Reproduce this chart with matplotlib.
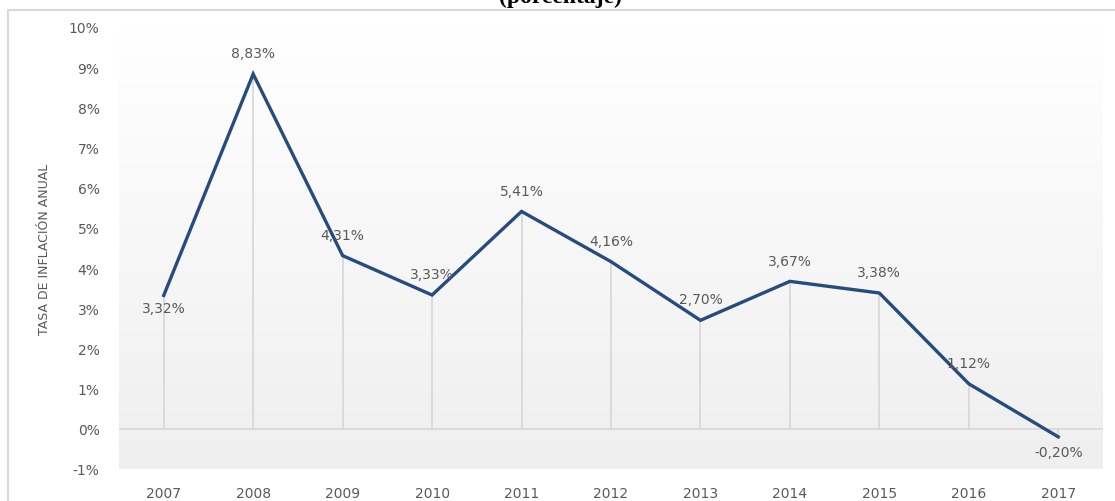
import numpy as np
import matplotlib.pyplot as plt
from matplotlib.patches import Rectangle

# datos: tasa de inflacion anual (%)
years = ['2007', '2008', '2009', '2010', '2011', '2012', '2013', '2014', '2015', '2016', '2017']
inflation = [3.32, 8.83, 4.31, 3.33, 5.41, 4.16, 2.70, 3.67, 3.38, 1.12, -0.20]
labels = ['3,32%', '8,83%', '4,31%', '3,33%', '5,41%', '4,16%', '2,70%', '3,67%', '3,38%', '1,12%', '-0,20%']
yticks = [-1, 0, 1, 2, 3, 4, 5, 6, 7, 8, 9, 10]

W, H = 1115, 502
fig = plt.figure(figsize=(W / 100, H / 100), dpi=100)
ax = fig.add_axes([119 / W, 1 - 470 / H, (1103 - 119) / W, (470 - 28) / H])

x = np.arange(len(years))

# fondo degradado
grad = np.linspace(0, 1, 256).reshape(-1, 1)
ax.imshow(grad, extent=[-0.5, 10.5, -1, 10], aspect='auto', origin='upper',
          cmap=plt.matplotlib.colors.LinearSegmentedColormap.from_list('g', ['#ffffff', '#efefef']),
          zorder=0)

ax.set_xlim(-0.5, 10.5)
ax.set_ylim(-1, 10)

# lineas de caida
for xi, v in zip(x, inflation):
    ax.plot([xi, xi], [0, v], color='#d9d9d9', lw=1.3, zorder=1)
ax.axhline(0, color='#d9d9d9', lw=1.3, zorder=1)

ax.plot(x, inflation, color='#264b7d', lw=2.4, zorder=3, solid_joinstyle='miter')

# etiquetas de datos
for xi, v, lab in zip(x, inflation, labels):
    if xi == 0:
        dy = -9
    elif xi == 10:
        dy = -11
    else:
        dy = 15
    ax.annotate(lab, (xi, v), xytext=(0, dy), textcoords='offset points',
                ha='center', va='center', fontsize=10, color='#595959', zorder=4)

ax.set_xticks(x)
ax.set_xticklabels(years)
ax.set_yticks(yticks)
ax.set_yticklabels([f'{t}%' for t in yticks])
ax.tick_params(axis='both', length=0, labelsize=10, colors='#595959')
ax.tick_params(axis='y', pad=14)
ax.tick_params(axis='x', pad=12)
for s in ax.spines.values():
    s.set_visible(False)

fig.text(45 / W, 1 - 249 / H, 'TASA DE INFLACIÓN ANUAL', rotation=90, ha='center', va='center',
         fontsize=9, color='#595959', family='Liberation Sans Narrow')

# marco exterior
fig.patches.append(Rectangle((8 / W, -0.1), 1.2, 1.1 - 10.5 / H, transform=fig.transFigure,
                             fill=False, edgecolor='#d9d9d9', lw=1.5))

fig.text(560 / W, 1 - 3 / H, '(porcentaje)', ha='center', va='baseline', fontsize=17,
         fontweight='bold', family='Liberation Serif', color='black')

fig.savefig('out.png', dpi=100)
